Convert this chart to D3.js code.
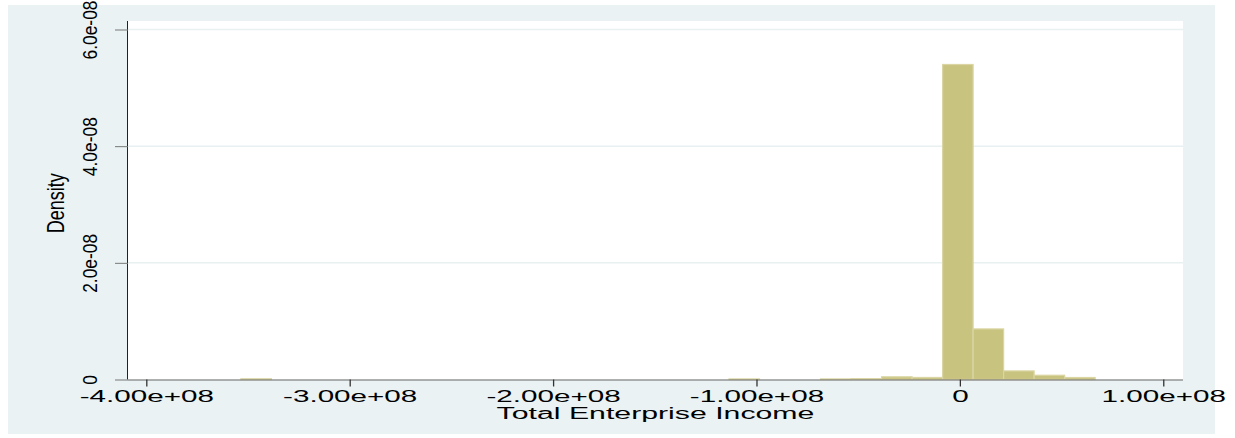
<!DOCTYPE html>
<html>
<head>
<meta charset="utf-8">
<script src="https://cdn.jsdelivr.net/npm/d3@7"></script>
<style>
  html, body { margin: 0; padding: 0; background: #fff; }
  svg text { font-family: "Liberation Sans", Arial, sans-serif; fill: #000; }
</style>
</head>
<body>
<svg id="chart" width="1235" height="438"></svg>
<script>
'use strict';

// histogram: bins of width 1.5e7 starting at -3.535e8
var binStart = -3.535e8;
var binWidth = 1.5e7;
var density = [
  1.2e-10, 0, 0, 0, 0, 0, 0, 0, 0, 0,
  0, 0, 0, 0, 0, 0, 1.0e-10, 0, 0, 1.0e-10,
  1.5e-10, 4.6e-10, 3.5e-10, 5.40e-8, 8.67e-9, 1.47e-9, 7.3e-10, 3.4e-10
];
var xTicks = [-4e8, -3e8, -2e8, -1e8, 0, 1e8];
var yTicks = [0, 2e-8, 4e-8, 6e-8];
var xTitle = "Total Enterprise Income";
var yTitle = "Density";

function fmtExp(v, digits) {
  if (v === 0) return "0";
  var s = v.toExponential(digits);   // e.g. -4.00e+8
  var parts = s.split("e");
  var sign = parts[1][0];
  var ex = parts[1].slice(1);
  if (ex.length < 2) ex = "0" + ex;
  return parts[0] + "e" + sign + ex;
}

var svg = d3.select("#chart");
var plotL = 128, plotR = 1183, plotT = 21, plotB = 379.5;

// outer graph region
svg.append("rect")
   .attr("x", 8).attr("y", 5)
   .attr("width", 1207).attr("height", 429)
   .attr("fill", "#eaf2f3");

// plot region
svg.append("rect")
   .attr("x", plotL).attr("y", plotT)
   .attr("width", plotR - plotL).attr("height", plotB - plotT)
   .attr("fill", "#fff");

var x = d3.scaleLinear().domain([-4.09e8, 1.097e8]).range([plotL, plotR]);
var y = d3.scaleLinear().domain([0, 6e-8]).range([plotB, 29.5]);

// gridlines
svg.append("g").selectAll("line")
   .data(yTicks.filter(function(d) { return d > 0; }))
   .enter().append("line")
   .attr("x1", plotL).attr("x2", plotR)
   .attr("y1", function(d) { return y(d); })
   .attr("y2", function(d) { return y(d); })
   .attr("stroke", "#e8f0f1")
   .attr("stroke-width", 1.5);

// bars
var bins = density.map(function(d, i) {
  return { x0: binStart + i * binWidth, x1: binStart + (i + 1) * binWidth, value: d };
}).filter(function(b) { return b.value > 0; });

svg.append("g").selectAll("rect")
   .data(bins)
   .enter().append("rect")
   .attr("x", function(b) { return x(b.x0); })
   .attr("width", function(b) { return x(b.x1) - x(b.x0); })
   .attr("y", function(b) { return y(b.value); })
   .attr("height", function(b) { return plotB - y(b.value); })
   .attr("fill", "#c9c380")
   .attr("stroke", "#dad5a3")
   .attr("stroke-width", 1.2);

// x axis
var xAxis = svg.append("g")
   .attr("transform", "translate(0," + plotB + ")")
   .call(d3.axisBottom(x).tickValues(xTicks).tickSize(7).tickSizeOuter(0)
          .tickFormat(function(d) { return fmtExp(d, 2); }));
xAxis.select(".domain").attr("stroke", "#666").attr("d", "M" + plotL + ",0.5H" + plotR);
xAxis.selectAll(".tick line").attr("stroke", "#333").attr("stroke-width", 1.3);
xAxis.selectAll(".tick text")
     .attr("y", 23).attr("dy", null)
     .attr("font-size", 15.6)
     .attr("transform", "scale(1.9,1)");

// y axis
var yAxis = svg.append("g")
   .attr("transform", "translate(" + plotL + ",0)")
   .call(d3.axisLeft(y).tickValues(yTicks).tickSize(13).tickSizeOuter(0)
          .tickFormat(function(d) { return d === 0 ? "0" : fmtExp(d, 1); }));
yAxis.select(".domain").attr("stroke", "#222").attr("d", "M-0.5," + plotT + "V" + plotB);
yAxis.selectAll(".tick line").attr("stroke", "#777");
yAxis.selectAll(".tick text")
     .attr("x", 0).attr("y", 0).attr("dy", null)
     .attr("text-anchor", "middle")
     .attr("font-size", 17.4)
     .attr("transform", "translate(-31.3,0) rotate(-90) scale(1,1.15)");

// axis titles
svg.append("text")
   .attr("text-anchor", "middle")
   .attr("font-size", 15.6)
   .attr("transform", "translate(" + ((plotL + plotR) / 2) + ",419.3) scale(1.94,1)")
   .text(xTitle);

svg.append("text")
   .attr("text-anchor", "middle")
   .attr("font-size", 18)
   .attr("transform", "translate(64.3," + ((plotT + plotB) / 2 + 3) + ") rotate(-90) scale(1,1.36)")
   .text(yTitle);
</script>
</body>
</html>
